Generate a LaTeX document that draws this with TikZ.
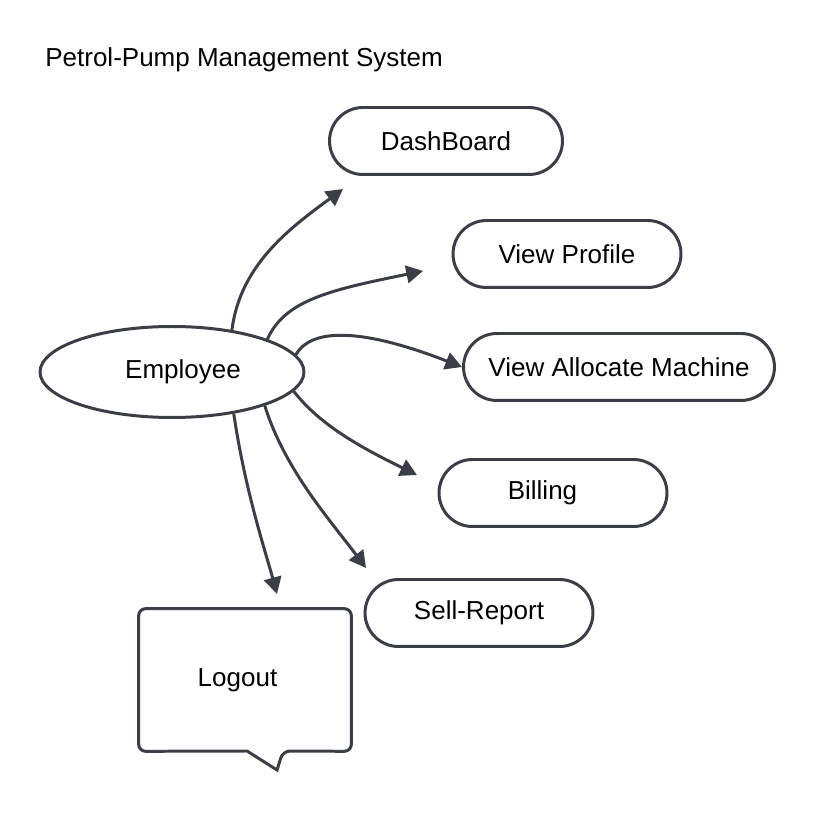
\documentclass[tikz,border=0pt]{standalone}
\usepackage{fontspec}
\setmainfont{Liberation Sans}
\usetikzlibrary{shapes.geometric,arrows.meta}
\definecolor{edgegray}{HTML}{3B3E47}

\begin{document}
\begin{tikzpicture}[x=0.02cm, y=-0.02cm,
    every node/.style={font=\fontsize{14.8}{17}\selectfont, text=black},
    actor/.style={ellipse, draw=edgegray, line width=1.7pt, fill=white, minimum width=5.28cm, minimum height=1.82cm, inner sep=0pt},
    pill/.style={rectangle, draw=edgegray, line width=1.7pt, fill=white, rounded corners=0.67cm, minimum width=4.56cm, minimum height=1.34cm, inner sep=0pt},
    flow/.style={draw=edgegray, line width=1.7pt, -{Triangle[length=9.5pt,width=10pt]}}]
    \useasboundingbox (0,0) rectangle (815,813);

    % Title
    \node[anchor=base west, inner sep=0pt] (title) at (45,67) {Petrol-Pump Management System};

    % Actor
    \node[actor] (emp) at (172,372) {\hspace*{0.44cm}Employee};

    % Use cases (the rounded "pills")
    \node[pill, minimum width=4.66cm] (dash) at (446,141) {DashBoard};
    \node[pill] (profile) at (567,254) {View Profile};
    \node[pill, minimum width=6.22cm] (machine) at (619,367) {View Allocate Machine};
    \node[pill] (billing) at (553,493) {Billing\hspace*{0.42cm}};
    \node[pill] (sell) at (479,613) {Sell-Report};

    % Logout (speech bubble)
    \node[minimum width=4.24cm, minimum height=2.84cm, inner sep=0pt] (logout) at (245,680) {Logout\hspace*{0.3cm}};
    \draw[edgegray, line width=1.7pt, rounded corners=4pt]
        (logout.south west) -- (logout.north west) -- (logout.north east)
        -- (logout.south east) -- (283,751) [sharp corners] -- (277,770) -- (247,751)
        [rounded corners=4pt] -- cycle;

    % Arrow tips (free ends)
    \coordinate (tDash) at (343,189);
    \coordinate (tProfile) at (423,271);
    \coordinate (tBilling) at (417,475);
    \coordinate (tSell) at (366,568);
    \coordinate (tLogout) at (277,594);

    % Connectors
    \draw[flow] (emp.35) .. controls (240,265) and (290,228) .. (tDash);
    \draw[flow] (emp.19) .. controls (285,300) and (330,290) .. (tProfile);
    \draw[flow] (emp.8) .. controls (315,322) and (380,335) .. (machine.west);
    \draw[flow] (emp.-9) .. controls (320,425) and (360,447) .. (tBilling);
    \draw[flow] (emp.-20) .. controls (285,470) and (330,520) .. (tSell);
    \draw[flow] (emp.-34) .. controls (245,490) and (265,550) .. (tLogout);
\end{tikzpicture}
\end{document}
